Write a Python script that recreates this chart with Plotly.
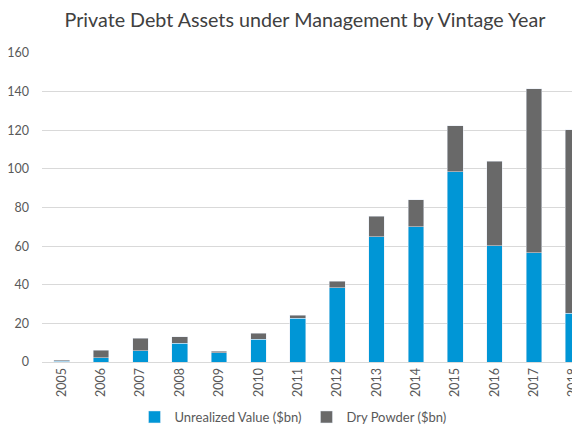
import plotly.graph_objects as go

# vintage years and AUM split ($bn)
years = ["2005", "2006", "2007", "2008", "2009", "2010", "2011",
         "2012", "2013", "2014", "2015", "2016", "2017", "2018"]
unrealized = [0.3, 2.3, 5.7, 9.6, 4.9, 11.8, 22.6,
              38.5, 64.8, 70.0, 98.4, 60.3, 56.5, 25.2]
dry_powder = [0.7, 3.8, 6.5, 3.4, 0.7, 3.0, 1.7,
              3.2, 10.7, 13.9, 24.0, 43.6, 85.0, 95.0]

blue = "#0096D6"
grey = "#696969"
font_name = "Lato"

fig = go.Figure()
fig.add_trace(go.Bar(x=years, y=unrealized, name="Unrealized Value ($bn)",
                     marker_color=blue))
fig.add_trace(go.Bar(x=years, y=dry_powder, name="Dry Powder ($bn)",
                     marker_color=grey))

# the page has an 8px body margin, so the figure is 572x419 and sits 8px in;
# the x range stops partway into 2018 so that bar gets cut like the original
W, H = 572, 419
fig.update_layout(
    barmode="stack",
    bargap=0.6,
    width=W,
    height=H,
    margin=dict(l=34, r=0, t=45, b=65, autoexpand=False),
    paper_bgcolor="white",
    plot_bgcolor="white",
    font=dict(family=font_name, color="#595959", size=12),
    title=dict(
        text="Private Debt Assets under Management by Vintage Year",
        font=dict(family=font_name, size=19.7, color="#404040"),
        x=297 / W, xref="container", xanchor="center",
        y=1 - 12 / H, yref="container", yanchor="middle",
    ),
    legend=dict(
        orientation="h",
        x=285 / W, xref="container", xanchor="center",
        y=1 - 409 / H, yref="container", yanchor="middle",
        font=dict(size=13, color="#595959"),
        itemwidth=30,
        traceorder="normal",
    ),
    showlegend=True,
)

fig.update_xaxes(
    type="category",
    range=[-0.5, 13.17],
    automargin=False,
    tickangle=-90,
    showline=True,
    linecolor="#d9d9d9",
    linewidth=1,
    ticks="",
    showgrid=False,
    tickfont=dict(size=12.5, color="#595959"),
)
fig.update_yaxes(
    range=[0, 160],
    dtick=20,
    automargin=False,
    showgrid=True,
    gridcolor="#d9d9d9",
    gridwidth=1,
    zeroline=False,
    ticks="",
    ticklabelstandoff=12,
    tickfont=dict(size=12.5, color="#595959"),
)

fig.write_html("out.html")
